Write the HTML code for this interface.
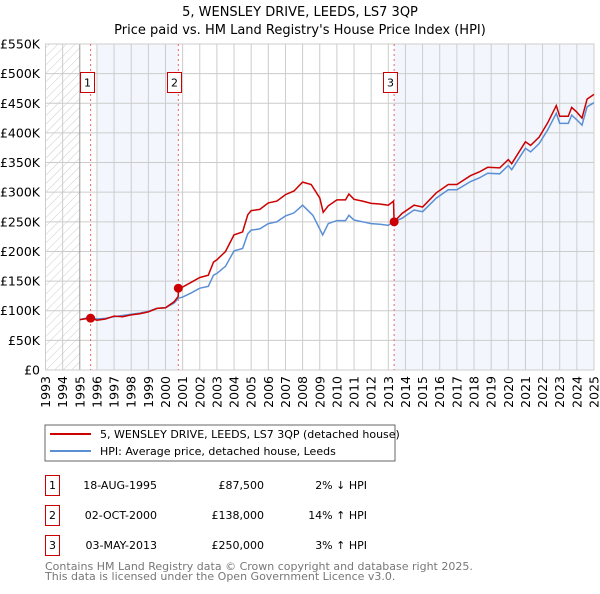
<!DOCTYPE html>
<html><head><meta charset="utf-8"><style>
body{margin:0;background:#fff;font-family:"DejaVu Sans","Liberation Sans",sans-serif;}
svg text{font-family:"DejaVu Sans","Liberation Sans",sans-serif;}
</style></head><body>
<svg id="c" width="600" height="590" xmlns="http://www.w3.org/2000/svg">
<defs><pattern id="hatch" width="6" height="6" patternUnits="userSpaceOnUse" patternTransform="rotate(45)"><line x1="0" y1="0" x2="0" y2="6" stroke="#ccc" stroke-width="1"/></pattern></defs>
<text x="300" y="16" text-anchor="middle" font-size="13">5, WENSLEY DRIVE, LEEDS, LS7 3QP</text>
<text x="300" y="34" text-anchor="middle" font-size="13">Price paid vs. HM Land Registry's House Price Index (HPI)</text>
<g id="plot"></g>
<rect x="45" y="425" width="350" height="36" fill="#fff" stroke="#666"/>
<line x1="50" y1="434" x2="91" y2="434" stroke="#cc0000" stroke-width="2"/>
<text x="100" y="438" font-size="11">5, WENSLEY DRIVE, LEEDS, LS7 3QP (detached house)</text>
<line x1="50" y1="451" x2="91" y2="451" stroke="#5b8fd4" stroke-width="2"/>
<text x="100" y="455" font-size="11">HPI: Average price, detached house, Leeds</text>
<g font-size="11">
<rect x="45.5" y="475.5" width="14" height="20" fill="#fff" stroke="#cc0000"/><text x="52.5" y="489" text-anchor="middle">1</text>
<text x="157" y="489" text-anchor="end">18-AUG-1995</text><text x="264" y="489" text-anchor="end">£87,500</text><text x="367" y="489" text-anchor="end">2% ↓ HPI</text>
<rect x="45.5" y="505.5" width="14" height="20" fill="#fff" stroke="#cc0000"/><text x="52.5" y="519" text-anchor="middle">2</text>
<text x="157" y="519" text-anchor="end">02-OCT-2000</text><text x="264" y="519" text-anchor="end">£138,000</text><text x="367" y="519" text-anchor="end">14% ↑ HPI</text>
<rect x="45.5" y="535.5" width="14" height="20" fill="#fff" stroke="#cc0000"/><text x="52.5" y="549" text-anchor="middle">3</text>
<text x="157" y="549" text-anchor="end">03-MAY-2013</text><text x="264" y="549" text-anchor="end">£250,000</text><text x="367" y="549" text-anchor="end">3% ↑ HPI</text>
</g>
<text x="45" y="570" font-size="11" fill="#777">Contains HM Land Registry data © Crown copyright and database right 2025.</text>
<text x="45" y="580" font-size="11" fill="#777">This data is licensed under the Open Government Licence v3.0.</text>
</svg>
<script>
const hpiYears=[1995,1995.6,1996,1996.5,1997,1997.5,1998,1998.5,1999,1999.5,2000,2000.5,2000.75,2001,2001.5,2002,2002.5,2002.8,2003,2003.5,2004,2004.5,2004.8,2005,2005.5,2006,2006.5,2007,2007.5,2008,2008.6,2009.17,2009.5,2010,2010.5,2010.7,2011,2011.5,2012,2012.5,2013,2013.3,2013.8,2014.5,2015,2015.8,2016.5,2017,2017.8,2018.3,2018.8,2019.5,2020,2020.2,2021,2021.3,2021.8,2022.3,2022.8,2023,2023.5,2023.7,2024,2024.3,2024.6,2025];
const hpiValues=[85,89,86,87,90,92,94,96,99,104,105,113,121,123,130,138,141,160,163,175,201,205,230,236,238,247,250,260,265,278,261,228,247,252,252,261,253,250,247,246,244,250,256,270,267,290,304,304,318,324,332,331,345,338,374,368,382,405,433,416,416,430,422,413,444,451];
const redYears=[1995,1995.63,1996,1996.5,1997,1997.5,1998,1998.5,1999,1999.5,2000,2000.5,2000.74,2000.76,2001,2001.5,2002,2002.5,2002.8,2003,2003.5,2004,2004.5,2004.8,2005,2005.5,2006,2006.5,2007,2007.5,2008,2008.5,2009,2009.2,2009.5,2010,2010.5,2010.7,2011,2011.5,2012,2012.5,2013,2013.3,2013.34,2013.8,2014.5,2015,2015.8,2016.5,2017,2017.8,2018.3,2018.8,2019.5,2020,2020.2,2021,2021.3,2021.8,2022.3,2022.8,2023,2023.5,2023.7,2024,2024.3,2024.6,2025];
const redValues=[85,87.5,84,86,91,90,93,95,98,104,105,115,124,138,140,148,156,160,182,186,200,228,233,262,269,271,282,285,296,302,317,313,290,266,277,287,287,297,288,285,281,280,278,285,250,264,278,275,299,313,313,328,334,342,341,355,348,385,379,393,417,446,428,428,443,435,425,457,465];
const saleYears=[1995.63,2000.75,2013.34];
const saleValues=[87.5,138,250];
const saleLabels=["1","2","3"];
const yTicks=[0,50,100,150,200,250,300,350,400,450,500,550];
const yTickLabels=["£0","£50K","£100K","£150K","£200K","£250K","£300K","£350K","£400K","£450K","£500K","£550K"];
const xTicks=[];for(let y=1993;y<=2025;y++)xTicks.push(y);

const L=45.5,R=594,T=44,B=370;
const sx=v=>L+(v-1993)/(2025-1993)*(R-L);
const sy=v=>B-v/550*(B-T);
const NS="http://www.w3.org/2000/svg";
const g=document.getElementById('plot');
function mk(tag,attrs,parent){const e=document.createElementNS(NS,tag);for(const k in attrs)e.setAttribute(k,attrs[k]);(parent||g).appendChild(e);return e;}
let e;
e=mk('rect',{x:L,y:T,width:R-L,height:B-T,fill:'#fff'});


e=mk('rect',{x:L,y:T,width:sx(1995)-L,height:B-T,fill:'url(#hatch)'});


e=mk('rect',{x:sx(1996),y:T,width:sx(saleYears[1])-sx(1996),height:B-T,fill:'#eef3fc',opacity:0.7});


e=mk('rect',{x:sx(saleYears[2]),y:T,width:R-sx(saleYears[2]),height:B-T,fill:'#eef3fc',opacity:0.7});


yTicks.forEach((v,i)=>{
 e=mk('line',{x1:L,x2:R,y1:sy(v),y2:sy(v),stroke:'#ccc','stroke-width':1});
 
 
 e=mk('text',{x:40,y:sy(v)+4.5,'text-anchor':'end','font-size':12.5});e.textContent=yTickLabels[i];
 
 
});
xTicks.forEach(yr=>{
 e=mk('line',{x1:sx(yr),x2:sx(yr),y1:T,y2:B,stroke:yr===1995?'#999':'#ccc','stroke-width':1});
 
 
 const x=sx(yr)+4.5;
 e=mk('text',{x:x,y:376,'text-anchor':'end','font-size':12.5,transform:`rotate(-90 ${x} 376)`});e.textContent=yr;
 
 
});
e=mk('rect',{x:L,y:T,width:R-L,height:B-T,fill:'none',stroke:'#ccc'});


saleYears.forEach((yr,i)=>{
 e=mk('line',{x1:sx(yr),x2:sx(yr),y1:T,y2:B,stroke:'#ee6666','stroke-width':1,'stroke-dasharray':'2,3'});
 
 
});
const pts=(xs,ys)=>xs.map((x,i)=>sx(x).toFixed(1)+','+sy(ys[i]).toFixed(1)).join(' ');
e=mk('polyline',{points:pts(hpiYears,hpiValues),fill:'none',stroke:'#5b8fd4','stroke-width':1.5});


e=mk('polyline',{points:pts(redYears,redValues),fill:'none',stroke:'#cc0000','stroke-width':1.5});


saleYears.forEach((yr,i)=>{
 e=mk('circle',{cx:sx(yr),cy:sy(saleValues[i]),r:4.5,fill:'#cc0000'});
 
 
 const bx=Math.round(sx(yr)-11);
 e=mk('rect',{x:bx+0.5,y:72.5,width:14,height:20,fill:'#fff',stroke:'#cc0000'});
 
 
 e=mk('text',{x:bx+7.5,y:86.5,'text-anchor':'middle','font-size':11});e.textContent=saleLabels[i];
 
 
});
</script>
</body></html>
